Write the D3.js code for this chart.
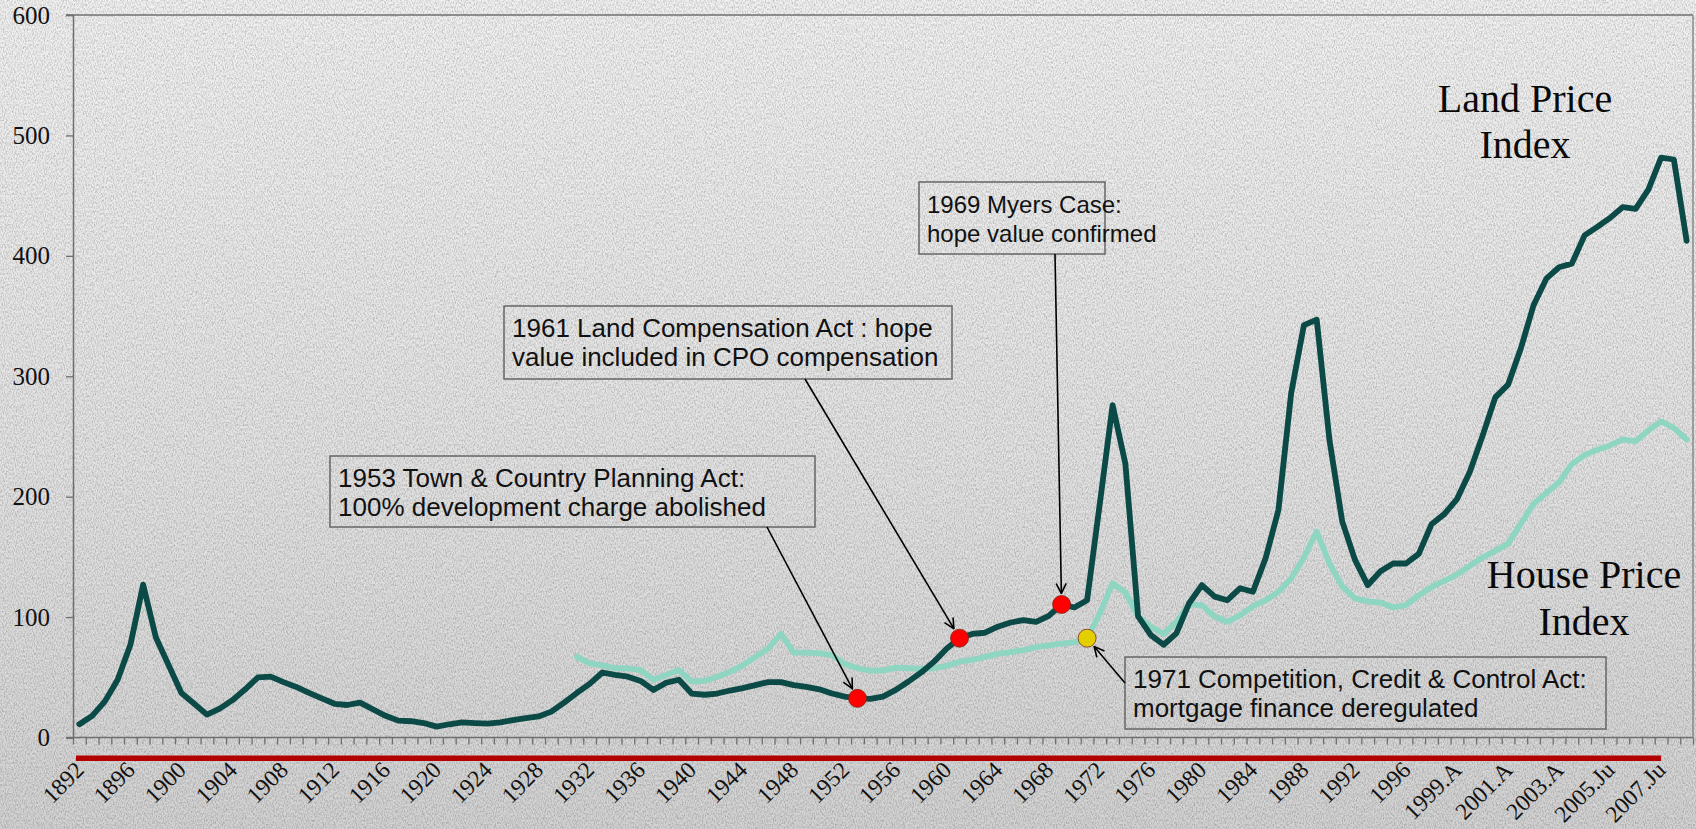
<!DOCTYPE html>
<html>
<head>
<meta charset="utf-8">
<script src="https://cdn.jsdelivr.net/npm/d3@7"></script>
<style>
html, body { margin: 0; padding: 0; overflow: hidden; background: #e4e4e4; }
#chart_parent { width: 1696px; height: 829px; }
</style>
</head>
<body>
<div id="chart_parent"></div>
<script>
// one category per year up to 1997, then half-yearly readings
const categories = [
    '1892', '1893', '1894', '1895', '1896', '1897', '1898', '1899', '1900', '1901',
    '1902', '1903', '1904', '1905', '1906', '1907', '1908', '1909', '1910', '1911',
    '1912', '1913', '1914', '1915', '1916', '1917', '1918', '1919', '1920', '1921',
    '1922', '1923', '1924', '1925', '1926', '1927', '1928', '1929', '1930', '1931',
    '1932', '1933', '1934', '1935', '1936', '1937', '1938', '1939', '1940', '1941',
    '1942', '1943', '1944', '1945', '1946', '1947', '1948', '1949', '1950', '1951',
    '1952', '1953', '1954', '1955', '1956', '1957', '1958', '1959', '1960', '1961',
    '1962', '1963', '1964', '1965', '1966', '1967', '1968', '1969', '1970', '1971',
    '1972', '1973', '1974', '1975', '1976', '1977', '1978', '1979', '1980', '1981',
    '1982', '1983', '1984', '1985', '1986', '1987', '1988', '1989', '1990', '1991',
    '1992', '1993', '1994', '1995', '1996', '1997', '1998.A', '1998.O', '1999.A', '1999.O',
    '2000.A', '2000.O', '2001.A', '2001.O', '2002.A', '2002.O', '2003.A', '2003.O', '2004.A', '2004.O',
    '2005.Ju', '2005.D', '2006.Ju', '2006.D', '2007.Ju', '2007.D', '2008.Ju',
];

const landPriceIndex = [
    11, 18, 30, 48, 77, 127, 83, 60, 37, 28,
    19, 24, 31, 40, 50, 50.5, 46, 42, 37, 32.5,
    28, 27, 29, 23.5, 18, 14, 13.5, 12, 9, 11,
    12.5, 12, 11.5, 12.5, 14.5, 16, 17.5, 21.5, 29, 37,
    44.5, 54, 52, 50.5, 47, 39.5, 45.5, 48, 36.5, 35.5,
    36.5, 39, 41, 43.5, 46, 46, 43.5, 42, 40, 36.5,
    34, 32.5, 32, 34, 39.5, 46.5, 54, 63, 74, 82.5,
    86, 87, 92, 95.5, 97.5, 96, 101, 110.5, 108, 114,
    194.5, 276, 227.5, 100.5, 85, 77, 86.5, 111.5, 126.5, 117,
    114, 124, 121, 149, 189, 286, 342.5, 347, 247, 179.5,
    147.5, 126.5, 138, 144.5, 144.5, 152.5, 177, 185.5, 198, 220.5,
    250.5, 282.5, 293, 323, 359, 381, 390.5, 393.5, 417, 424,
    431.5, 440.5, 439, 455, 481.5, 480, 412.5,
];

// house price series starts in 1931
const housePriceIndex = [
    null, null, null, null, null, null, null, null, null, null,
    null, null, null, null, null, null, null, null, null, null,
    null, null, null, null, null, null, null, null, null, null,
    null, null, null, null, null, null, null, null, null, 67,
    61.5, 60, 57.5, 57.5, 56, 48, 52, 56, 46.5, 47,
    50.5, 54.5, 60, 67, 74, 86, 70.5, 70.5, 70, 68.5,
    61, 57.5, 55.5, 55.5, 58, 57.5, 57, 57.5, 59.5, 63,
    64.5, 67, 69.5, 71, 72.5, 75, 76.5, 78, 79, 82.5,
    103, 128, 120.5, 100.5, 92, 86, 96, 110.5, 110, 100.5,
    96, 101.5, 109, 114, 121, 132, 149.5, 171, 144.5, 125.5,
    115.5, 113, 112, 108, 110, 118, 125, 130, 135.5, 142.5,
    149.5, 155, 161, 177.5, 194, 203, 212, 227, 234.5, 239,
    242.5, 247.5, 246, 255, 262.5, 257, 247.5,
];

const yTicks = [0, 100, 200, 300, 400, 500, 600];

const xTickLabels = [
    '1892', '1896', '1900', '1904', '1908', '1912', '1916', '1920', '1924', '1928',
    '1932', '1936', '1940', '1944', '1948', '1952', '1956', '1960', '1964', '1968',
    '1972', '1976', '1980', '1984', '1988', '1992', '1996', '1999.A', '2001.A', '2003.A',
    '2005.Ju', '2007.Ju',
];

const seriesNames = ['Land Price Index', 'House Price Index'];

const eventCategories = ['1953', '1961', '1969', '1971'];
const eventSeries = ['land', 'land', 'land', 'house'];
const eventTexts = [
    ['1953 Town & Country Planning Act:', '100% development charge abolished'],
    ['1961 Land Compensation Act : hope', 'value included in CPO compensation'],
    ['1969 Myers Case:', 'hope value confirmed'],
    ['1971 Competition, Credit & Control Act:', 'mortgage finance deregulated'],
];

const chartConfig = {
    width: 1696,
    height: 829,
    plot: { left: 73, right: 1693, top: 15, bottom: 737.5 },
    tickSize: 7,
    landColor: '#0b4a46',
    houseColor: '#8ed5c2',
    // annotation boxes, in page pixels: x, y, w, h, font size, and where the arrow leaves the box
    boxes: [
        { x: 330, y: 456, w: 485, h: 71, fs: 26, ax: 767, ay: 527 },
        { x: 504, y: 306, w: 448, h: 73, fs: 26, ax: 805, ay: 379 },
        { x: 919, y: 182, w: 186, h: 72, fs: 24, ax: 1055, ay: 254 },
        { x: 1125, y: 657, w: 481, h: 72, fs: 26, ax: 1125, ay: 683 },
    ],
    markerColors: ['#ff0000', '#ff0000', '#ff0000', '#e3cf00'],
    legendPos: [
        { x: 1525, y: 111.7 },
        { x: 1584, y: 588.3 },
    ],
};

function initialiseChartElements(rootSelector, config) {
    const svg = d3.select(rootSelector).append('svg')
        .attr('width', config.width)
        .attr('height', config.height);

    const defs = svg.append('defs');

    const grad = defs.append('linearGradient')
        .attr('id', 'bg-grad')
        .attr('x1', 0).attr('y1', 0).attr('x2', 0).attr('y2', 1);
    grad.append('stop').attr('offset', '0%').attr('stop-color', '#f1f1f1');
    grad.append('stop').attr('offset', '55%').attr('stop-color', '#e3e3e3');
    grad.append('stop').attr('offset', '100%').attr('stop-color', '#d3d3d3');

    // paper grain
    const grain = defs.append('filter')
        .attr('id', 'grain')
        .attr('x', 0).attr('y', 0).attr('width', '100%').attr('height', '100%');
    grain.append('feTurbulence')
        .attr('type', 'fractalNoise')
        .attr('baseFrequency', '0.9 0.45')
        .attr('numOctaves', 3)
        .attr('seed', 7);
    grain.append('feColorMatrix')
        .attr('type', 'matrix')
        .attr('values', '0 0 0 0 0  0 0 0 0 0  0 0 0 0 0  0.45 0 0 0 -0.17');

    defs.append('marker')
        .attr('id', 'arrow')
        .attr('viewBox', '0 0 12 12')
        .attr('refX', 11)
        .attr('refY', 6)
        .attr('markerWidth', 12)
        .attr('markerHeight', 12)
        .attr('markerUnits', 'userSpaceOnUse')
        .attr('orient', 'auto')
        .append('path')
        .attr('d', 'M1,1 L11,6 L1,11')
        .attr('fill', 'none')
        .attr('stroke', '#000')
        .attr('stroke-width', 1.6);

    svg.append('rect')
        .attr('width', config.width)
        .attr('height', config.height)
        .attr('fill', 'url(#bg-grad)');
    svg.append('rect')
        .attr('width', config.width)
        .attr('height', config.height)
        .attr('filter', 'url(#grain)');

    const chartEl = svg.append('g');
    const frameGroup = chartEl.append('g').attr('class', 'frame');
    const yAxisGroup = chartEl.append('g')
        .attr('class', 'y-axis-group')
        .attr('transform', `translate(${config.plot.left},0)`);
    const xTickGroup = chartEl.append('g')
        .attr('class', 'x-tick-group')
        .attr('transform', `translate(0,${config.plot.bottom})`);
    const xAxisGroup = chartEl.append('g')
        .attr('class', 'x-axis-group')
        .attr('transform', `translate(0,${config.plot.bottom})`);
    const lineGroup = chartEl.append('g').attr('class', 'lines');
    const noteGroup = chartEl.append('g').attr('class', 'notes');

    return {
        svg,
        chartEl,
        frameGroup,
        xAxisGroup,
        xTickGroup,
        yAxisGroup,
        lineGroup,
        noteGroup,
    };
}

function updateChart(config, elements) {
    const {
        frameGroup,
        xAxisGroup,
        xTickGroup,
        yAxisGroup,
        lineGroup,
        noteGroup,
        chartEl,
    } = elements;
    const p = config.plot;

    const xScale = d3.scaleBand()
        .domain(categories)
        .range([p.left, p.right])
        .padding(0);
    const bw = xScale.bandwidth();
    const xMid = c => xScale(c) + bw / 2;

    const yScale = d3.scaleLinear()
        .domain([0, 600])
        .range([p.bottom, p.top]);

    // y axis
    yAxisGroup.call(d3.axisLeft(yScale)
        .tickValues(yTicks)
        .tickSize(config.tickSize)
        .tickPadding(16));
    yAxisGroup.select('.domain').attr('stroke', '#6f6f6f').attr('stroke-width', 1.5);
    yAxisGroup.selectAll('.tick line').attr('stroke', '#6f6f6f').attr('stroke-width', 1.3);
    yAxisGroup.selectAll('.tick text')
        .attr('font-family', '"Liberation Serif", "Times New Roman", serif')
        .attr('font-size', 25)
        .attr('fill', '#111');

    // frame: top and bottom rules, right edge
    frameGroup.selectAll('line.hrule')
        .data([0, 600])
        .join('line')
        .attr('class', 'hrule')
        .attr('x1', p.left - config.tickSize)
        .attr('x2', p.right)
        .attr('y1', d => yScale(d))
        .attr('y2', d => yScale(d))
        .attr('stroke', '#6f6f6f')
        .attr('stroke-width', 1.5);
    frameGroup.append('line')
        .attr('x1', p.right).attr('x2', p.right)
        .attr('y1', yScale(600)).attr('y2', yScale(0))
        .attr('stroke', '#8a8a8a')
        .attr('stroke-width', 1.5);

    // tick marks on the category boundaries
    const boundaryScale = d3.scaleLinear()
        .domain([0, categories.length])
        .range([p.left, p.right]);
    xTickGroup.call(d3.axisBottom(boundaryScale)
        .tickValues(d3.range(categories.length + 1))
        .tickSize(config.tickSize)
        .tickFormat(''));
    xTickGroup.select('.domain').remove();
    xTickGroup.selectAll('.tick line').attr('stroke', '#6f6f6f').attr('stroke-width', 1.3);

    // red rule under the axis
    chartEl.insert('rect', '.lines')
        .attr('x', xScale(categories[0]) + 3)
        .attr('y', p.bottom + 18)
        .attr('width', xMid('2007.Ju') - xScale(categories[0]) - 3)
        .attr('height', 5.5)
        .attr('fill', '#b30000');

    // category labels, every fourth one, slanted
    xAxisGroup.call(d3.axisBottom(xScale)
        .tickValues(xTickLabels)
        .tickSize(0)
        .tickPadding(0));
    xAxisGroup.select('.domain').remove();
    xAxisGroup.selectAll('.tick text')
        .attr('font-family', '"Liberation Serif", "Times New Roman", serif')
        .attr('font-size', 23.5)
        .attr('fill', '#111')
        .attr('text-anchor', 'end')
        .attr('y', 0)
        .attr('dy', 0)
        .attr('transform', 'translate(6,34) rotate(-45)');

    // series lines
    const line = d3.line()
        .defined(d => d != null)
        .x((d, i) => xMid(categories[i]))
        .y(d => yScale(d))
        .curve(d3.curveLinear);

    lineGroup.append('path')
        .datum(housePriceIndex)
        .attr('fill', 'none')
        .attr('stroke', config.houseColor)
        .attr('stroke-width', 5.8)
        .attr('stroke-linejoin', 'round')
        .attr('stroke-linecap', 'round')
        .attr('d', line);

    lineGroup.append('path')
        .datum(landPriceIndex)
        .attr('fill', 'none')
        .attr('stroke', config.landColor)
        .attr('stroke-width', 5.8)
        .attr('stroke-linejoin', 'round')
        .attr('stroke-linecap', 'round')
        .attr('d', line);

    // series names
    seriesNames.forEach((name, i) => {
        const words = name.split(' ');
        const t = lineGroup.append('text')
            .attr('x', config.legendPos[i].x)
            .attr('y', config.legendPos[i].y)
            .attr('text-anchor', 'middle')
            .attr('font-family', '"Liberation Serif", "Times New Roman", serif')
            .attr('font-size', 40)
            .attr('fill', '#0a0a0a');
        t.append('tspan').attr('x', config.legendPos[i].x).text(`${words[0]} ${words[1]}`);
        t.append('tspan').attr('x', config.legendPos[i].x).attr('dy', 46.6).text(words[2]);
    });

    // annotations
    eventCategories.forEach((cat, i) => {
        const idx = categories.indexOf(cat);
        const value = eventSeries[i] === 'land' ? landPriceIndex[idx] : housePriceIndex[idx];
        const cx = xMid(cat);
        const cy = yScale(value);
        const box = config.boxes[i];
        const r = 9;

        noteGroup.append('rect')
            .attr('x', box.x)
            .attr('y', box.y)
            .attr('width', box.w)
            .attr('height', box.h)
            .attr('fill', 'none')
            .attr('stroke', '#666')
            .attr('stroke-width', 1.5);

        const t = noteGroup.append('text')
            .attr('font-family', '"Liberation Sans", Arial, sans-serif')
            .attr('font-size', box.fs)
            .attr('fill', '#111');
        eventTexts[i].forEach((lineText, j) => {
            t.append('tspan')
                .attr('x', box.x + 8)
                .attr('y', box.y + 31 + j * 29)
                .text(lineText);
        });

        const dx = cx - box.ax;
        const dy = cy - box.ay;
        const len = Math.sqrt(dx * dx + dy * dy);
        const stop = r + 2;
        noteGroup.append('line')
            .attr('x1', box.ax)
            .attr('y1', box.ay)
            .attr('x2', cx - dx / len * stop)
            .attr('y2', cy - dy / len * stop)
            .attr('stroke', '#000')
            .attr('stroke-width', 1.6)
            .attr('marker-end', 'url(#arrow)');

        noteGroup.append('circle')
            .attr('cx', cx)
            .attr('cy', cy)
            .attr('r', r)
            .attr('fill', config.markerColors[i])
            .attr('stroke', '#7a2a1a')
            .attr('stroke-width', 0.8);
    });
}

const chartElements = initialiseChartElements('#chart_parent', chartConfig);

updateChart(chartConfig, chartElements);
</script>
</body>
</html>
